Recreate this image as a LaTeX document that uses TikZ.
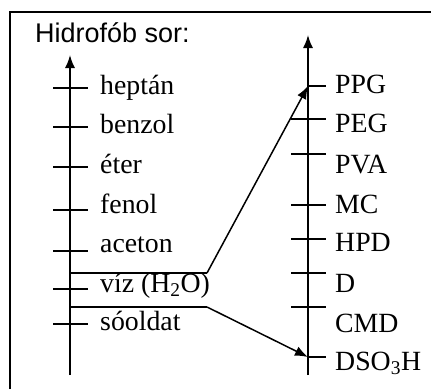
\documentclass[tikz,border=0pt]{standalone}
\usepackage{fontspec}
\setmainfont{Liberation Serif}
\newfontfamily\titlefont{Liberation Sans}
\usetikzlibrary{arrows.meta}
\begin{document}
\begin{tikzpicture}[x=1pt,y=-1pt,
  axisline/.style={line width=1.6pt,-{Latex[length=13pt,width=10pt]}},
  tickline/.style={line width=1.5pt},
  link/.style={line width=1.5pt},
  linkarrow/.style={line width=1.5pt,-{Latex[length=13pt,width=10pt]}},
  lab/.style={anchor=base west,inner sep=0pt,font=\fontsize{27.8}{30}\selectfont},
  frameline/.style={line width=2pt}]
\useasboundingbox (0,0) rectangle (431,389);
% frame
\coordinate (fb) at (10,389);
\coordinate (fc) at (10,12);
\coordinate (fr) at (431,12);
\draw[frameline] (fb) -- (fc) -- (fr);
% title
\node[anchor=base west,inner sep=0pt,font=\titlefont\fontsize{27}{30}\selectfont] (title) at (35,42) {Hidrof\'ob sor:};
% left axis
\coordinate (la0) at (70,375);
\coordinate (la1) at (70,55);
\draw[axisline] (la0) -- (la1);
\foreach \y/\n in {88/1,127/2,167/3,210/4,251/5,289/6,324/7}{
  \coordinate (lt\n a) at (53,\y);
  \coordinate (lt\n b) at (88,\y);
  \draw[tickline] (lt\n a) -- (lt\n b);
}
\node[lab] (heptan) at (100,94) {hept\'an};
\node[lab] (benzol) at (100,133) {benzol};
\node[lab] (eter) at (100,173) {\'eter};
\node[lab] (fenol) at (100,213) {fenol};
\node[lab] (aceton) at (100,252) {aceton};
\node[lab] (viz) at (100,292) {v\'{\i}z (H\textsubscript{2}O)};
\node[lab] (sooldat) at (100,330) {s\'ooldat};
% right axis
\coordinate (ra0) at (308,375);
\coordinate (ra1) at (308,35);
\draw[axisline] (ra0) -- (ra1);
\foreach \y/\n/\xa in {86/1/308,119/2/291,154/3/291,205/4/291,239/5/291,273/6/291,307/7/291,357/8/308}{
  \coordinate (rt\n a) at (\xa,\y);
  \coordinate (rt\n b) at (326,\y);
  \draw[tickline] (rt\n a) -- (rt\n b);
}
\node[lab] (ppg) at (335,93) {PPG};
\node[lab] (peg) at (335,132) {PEG};
\node[lab] (pva) at (335,173) {PVA};
\node[lab] (mc) at (335,213) {MC};
\node[lab] (hpd) at (335,251) {HPD};
\node[lab] (d) at (335,292) {D};
\node[lab] (cmd) at (335,332) {CMD};
\node[lab] (dso) at (335,370) {DSO\textsubscript{3}H};
% box and arrows
\coordinate (bt0) at (70,273);
\coordinate (bt1) at (207,273);
\coordinate (bb0) at (70,307);
\coordinate (bb1) at (207,307);
\coordinate (ppgpt) at (308,86);
\coordinate (dsopt) at (308,357);
\draw[link] (bt0) -- (bt1);
\draw[linkarrow] (bt1) -- (ppgpt);
\draw[link] (bb0) -- (bb1);
\draw[linkarrow] (bb1) -- (dsopt);
\end{tikzpicture}
\end{document}
